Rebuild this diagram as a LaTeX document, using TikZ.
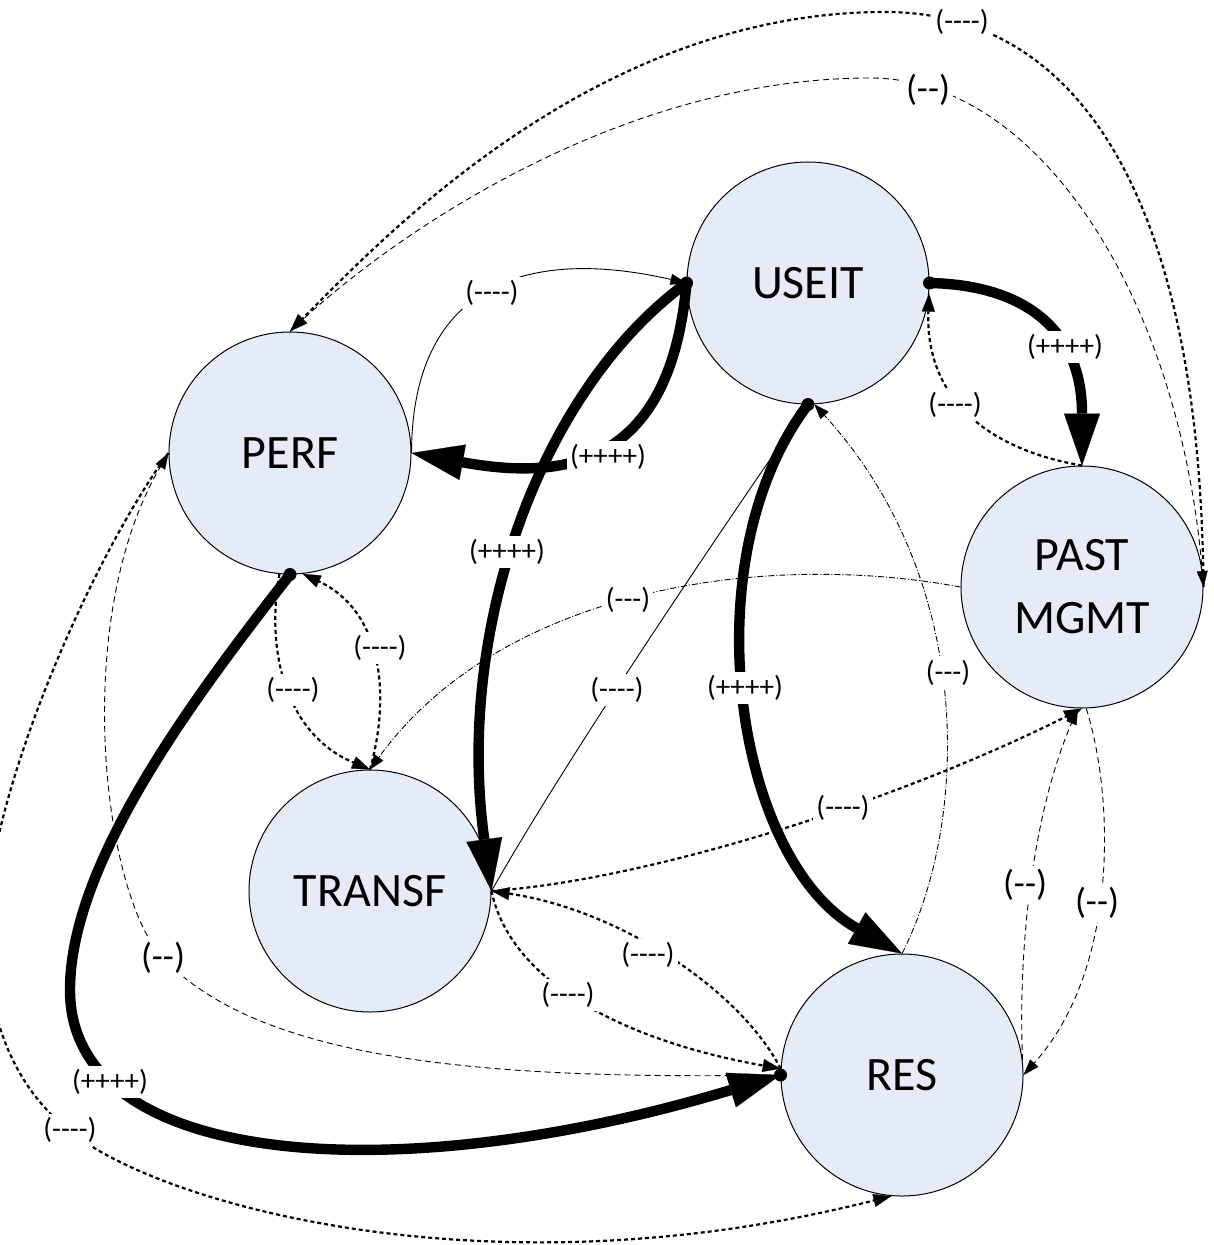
\documentclass[tikz,border=0pt]{standalone}
\usepackage{fontspec}
\setmainfont{Carlito}
\usetikzlibrary{arrows.meta}
\definecolor{nodefill}{HTML}{E5ECF7}
% a hyphen boxed on its own, so that runs of them stay hyphens
\newcommand\hh{\mbox{-}}
\begin{document}
\begin{tikzpicture}[x=0.5pt,y=-0.5pt,
  stnode/.style={circle,draw=black,line width=0.5pt,fill=nodefill,minimum size=121pt,
    inner sep=0pt,align=center,font=\fontsize{24}{31.5}\selectfont},
  heavy/.style={line width=5.2pt,-{Triangle[length=26pt,width=18pt,line width=0.1pt]}},
  dotline/.style={line width=1.1pt,dash pattern=on 2pt off 1.5pt,
    -{Triangle[length=9pt,width=6.5pt,line width=0.1pt]}},
  thindash/.style={line width=0.45pt,dash pattern=on 3pt off 2pt,
    -{Triangle[length=8pt,width=5.5pt,line width=0.1pt]}},
  dashdot/.style={line width=0.45pt,dash pattern=on 3pt off 1pt on 0.5pt off 1pt,
    -{Triangle[length=7.5pt,width=5.5pt,line width=0.1pt]}},
  thinsolid/.style={line width=0.45pt,-{Triangle[length=8pt,width=5.5pt,line width=0.1pt]}},
  lbl/.style={fill=white,inner sep=1.5pt,font=\fontsize{14.5}{17}\selectfont},
  biglbl/.style={fill=white,inner sep=1.5pt,font=\fontsize{18}{21}\selectfont},
  enddot/.style={circle,fill=black,inner sep=0pt,minimum size=6.5pt}
]
\useasboundingbox (0,0) rectangle (1213,1245);

% factors
\node[stnode] (perf)   at (290,453)  {PERF};
\node[stnode] (useit)  at (808,283)  {USEIT};
\node[stnode] (past)   at (1082,587) {PAST\\MGMT};
\node[stnode] (transf) at (370,891)  {TRANSF};
\node[stnode] (res)    at (902,1075) {RES};

% weak links
\draw[thinsolid] (perf.east) .. controls (412,290) and (520,245) .. (useit.west);
\draw[thinsolid,-] (transf.east) .. controls (560,770) and (700,560) .. (useit.south);
\draw[dotline] (past.north) .. controls (990,450) and (925,400) .. (useit.-5);
\draw[dotline] (transf.north) .. controls (392,690) and (380,610) .. (perf.-84);
\draw[dotline] (perf.-95) .. controls (265,655) and (288,735) .. (transf.north);
\draw[dashdot] (past.west) .. controls (760,550) and (500,590) .. (transf.north);
\draw[dashdot] (res.north) .. controls (970,820) and (975,580) .. (useit.-87);
\draw[dotline] (transf.east) .. controls (650,880) and (900,800) .. (past.south);
\draw[dotline] (res.177) .. controls (740,990) and (620,910) .. (transf.east);
\draw[dotline] (transf.east) .. controls (510,980) and (620,1040) .. (res.177);
\draw[thindash] (res.west) .. controls (480,1080) and (260,1060) .. (163,958)
  .. controls (103,895) and (70,620) .. (perf.west);
\draw[dotline] (perf.west) .. controls (90,560) and (-14,800) .. (-14,930)
  .. controls (-14,1040) and (30,1100) .. (69,1130)
  .. controls (150,1200) and (480,1300) .. (res.-95);
\draw[dotline] (past.east) .. controls (1200,200) and (1080,12) .. (885,12)
  .. controls (600,12) and (390,230) .. (perf.north);
\draw[thindash] (perf.north) .. controls (390,235) and (620,78) .. (870,78)
  .. controls (1040,78) and (1180,300) .. (past.east);
\draw[thindash] (res.7) .. controls (1018,960) and (1030,820) .. (past.-92);
\draw[thindash] (past.-88) .. controls (1115,800) and (1118,970) .. (res.east);

% strong links
\draw[heavy] (useit.west) .. controls (670,470) and (560,480) .. (perf.east);
\draw[heavy] (useit.west) .. controls (540,390) and (455,630) .. (transf.east);
\draw[heavy] (useit.east) .. controls (1025,285) and (1082,330) .. (past.north);
\draw[heavy] (useit.south) .. controls (690,560) and (735,860) .. (res.north);
\draw[heavy] (perf.south) .. controls (200,690) and (70,860) .. (70,990)
  .. controls (70,1170) and (400,1190) .. (res.west);
\node[enddot] (d1) at (useit.west) {};
\node[enddot] (d2) at (useit.east) {};
\node[enddot] (d3) at (useit.south) {};
\node[enddot] (d4) at (perf.south) {};
\node[enddot] (d5) at (res.west) {};

% link weights
\node[lbl] (w1)  at (608,457)  {(++++)};
\node[lbl] (w2)  at (507,552)  {(++++)};
\node[lbl] (w3)  at (1065,347) {(++++)};
\node[lbl] (w4)  at (745,688)  {(++++)};
\node[lbl] (w5)  at (110,1082) {(++++)};
\node[lbl] (w6)  at (962,22)   {(\hh\hh\hh\hh)};
\node[biglbl] (w7) at (928,90) {(\hh\hh)};
\node[lbl] (w8)  at (492,293)  {(\hh\hh\hh\hh)};
\node[lbl] (w9)  at (955,405)  {(\hh\hh\hh\hh)};
\node[lbl] (w10) at (380,648)  {(\hh\hh\hh\hh)};
\node[lbl] (w11) at (293,690)  {(\hh\hh\hh\hh)};
\node[lbl] (w12) at (628,600)  {(\hh\hh\hh)};
\node[lbl] (w13) at (948,673)  {(\hh\hh\hh)};
\node[lbl] (w14) at (617,690)  {(\hh\hh\hh\hh)};
\node[lbl] (w15) at (843,808)  {(\hh\hh\hh\hh)};
\node[lbl] (w16) at (648,955)  {(\hh\hh\hh\hh)};
\node[lbl] (w17) at (568,995)  {(\hh\hh\hh\hh)};
\node[biglbl] (w18) at (163,958) {(\hh\hh)};
\node[lbl] (w19) at (70,1130)  {(\hh\hh\hh\hh)};
\node[biglbl] (w20) at (1025,885) {(\hh\hh)};
\node[biglbl] (w21) at (1097,903) {(\hh\hh)};
\end{tikzpicture}
\end{document}
